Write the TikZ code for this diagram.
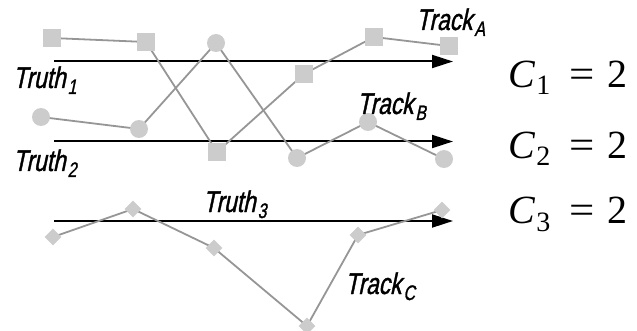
\documentclass[tikz,border=0pt]{standalone}
\usepackage{fontspec}
\newfontfamily\lblff{Liberation Sans}[FakeSlant=0.21,FakeStretch=0.76,FakeBold=1.2]
\newfontfamily\eqfont{Liberation Serif}
\usetikzlibrary{arrows.meta}
\definecolor{mark}{RGB}{204,204,204}
\definecolor{trk}{RGB}{150,150,150}
\newcommand\lblfont{\lblff\fontsize{30pt}{30pt}\selectfont}
\newcommand\eqsize{\eqfont\fontsize{40pt}{40pt}\selectfont}
\newcommand\lsub[1]{\hspace{2pt}\raisebox{-6pt}{\fontsize{21pt}{21pt}\selectfont #1}}
\newcommand\esub[1]{\raisebox{-7pt}{\fontsize{28pt}{28pt}\selectfont #1}}
\newcommand\eqn[1]{\textit{C}\hspace{1pt}\esub{#1}\hspace{19pt}\scalebox{1.12}[1]{=}\hspace{13pt}2}
\begin{document}
\begin{tikzpicture}[x=1pt,y=-1pt,
  truth/.style={line width=2pt,-{Triangle[length=21pt,width=13pt]}},
  track/.style={draw=trk,line width=1.8pt},
  sq/.style={rectangle,fill=mark,minimum size=18pt,inner sep=0pt},
  ci/.style={circle,fill=mark,minimum size=18pt,inner sep=0pt},
  di/.style={rectangle,fill=mark,minimum size=12pt,inner sep=0pt,rotate=45},
  lbl/.style={font=\lblfont,inner sep=0pt,anchor=base west},
  eq/.style={font=\eqsize,inner sep=0pt,anchor=base west}]
\useasboundingbox (0,0) rectangle (637,331);
% truth arrows
\coordinate (t1s) at (54,61.5);  \coordinate (t1e) at (453,61.5);
\coordinate (t2s) at (54,141.5); \coordinate (t2e) at (453,141.5);
\coordinate (t3s) at (54,221);   \coordinate (t3e) at (453,221);
\draw[truth] (t1s) -- (t1e);
\draw[truth] (t2s) -- (t2e);
\draw[truth] (t3s) -- (t3e);
% track coordinates
\coordinate (a1) at (52,38);  \coordinate (a2) at (146,42);  \coordinate (a3) at (217,152);
\coordinate (a4) at (304,74); \coordinate (a5) at (374,37);  \coordinate (a6) at (449,46);
\coordinate (b1) at (41,117); \coordinate (b2) at (139,129); \coordinate (b3) at (216,43);
\coordinate (b4) at (297,158);\coordinate (b5) at (368,122); \coordinate (b6) at (444,159);
\coordinate (c1) at (53,237); \coordinate (c2) at (133,209); \coordinate (c3) at (214,248);
\coordinate (c4) at (307,326);\coordinate (c5) at (358,235); \coordinate (c6) at (442,210);
\draw[track] (a1) -- (a2) -- (a3) -- (a4) -- (a5) -- (a6);
\draw[track] (b1) -- (b2) -- (b3) -- (b4) -- (b5) -- (b6);
\draw[track] (c1) -- (c2) -- (c3) -- (c4) -- (c5) -- (c6);
\foreach \i in {1,...,6} {
  \node[sq] (ma\i) at (a\i) {};
  \node[ci] (mb\i) at (b\i) {};
  \node[di] (mc\i) at (c\i) {};
}
% labels
\node[lbl] (tr1) at (13,88)  {Truth\lsub{1}};
\node[lbl] (tr2) at (13,171) {Truth\lsub{2}};
\node[lbl] (tr3) at (203,212) {Truth\lsub{3}};
\node[lbl] (tka) at (416,30) {Track\lsub{A}};
\node[lbl] (tkb) at (357,114) {Track\lsub{B}};
\node[lbl] (tkc) at (345,294) {Track\lsub{C}};
% equations
\node[eq] (e1) at (508,88)  {\eqn{1}};
\node[eq] (e2) at (508,159) {\eqn{2}};
\node[eq] (e3) at (508,224) {\eqn{3}};
\end{tikzpicture}
\end{document}
